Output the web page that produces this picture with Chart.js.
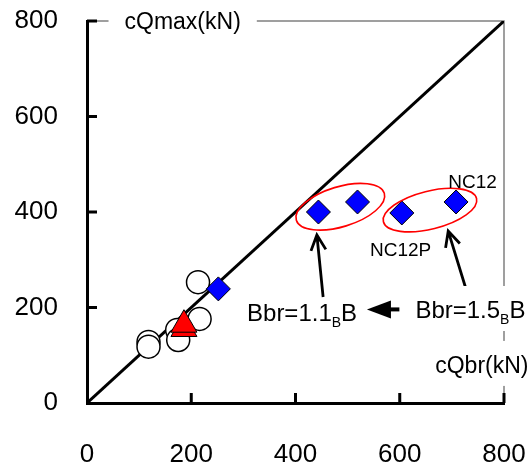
<!DOCTYPE html>
<html>
<head>
<meta charset="utf-8">
<script src="https://cdn.jsdelivr.net/npm/chart.js@4.4.1/dist/chart.umd.min.js"></script>
<style>
  body { margin: 0; background: #fff; }
</style>
</head>
<body>
<canvas id="chart" width="532" height="468"></canvas>
<script>
// values (kN)
const circleX = [213, 216, 173, 175, 118, 118];
const circleY = [253, 176, 153, 132, 128, 118];
const triangleX = [186, 186];
const triangleY = [155, 164];
const diamondX = [252, 444, 519, 604, 708];
const diamondY = [239, 400, 421, 398, 421];
const lineX = [0, 800];
const lineY = [0, 800];
const tickValues = [0, 200, 400, 600, 800];

const FONT = "'Liberation Sans', Arial, sans-serif";

function pts(xs, ys) {
    return xs.map((x, i) => ({ x: x, y: ys[i] }));
}

// annotations in data coordinates
const ellipses = [
    { x: 486, y: 411, rx: 46, ry: 20, rot: -17 },
    { x: 658, y: 404, rx: 48, ry: 19, rot: -14 }
];
const openArrows = [
    { x1: 453, y1: 222, x2: 441, y2: 352 },
    { x1: 729, y1: 232, x2: 693, y2: 360 }
];

function drawOpenArrow(ctx, x1, y1, x2, y2) {
    const a = Math.atan2(y2 - y1, x2 - x1);
    const len = 17, spread = 26 * Math.PI / 180;
    ctx.beginPath();
    ctx.moveTo(x1, y1);
    ctx.lineTo(x2, y2);
    ctx.moveTo(x2 - len * Math.cos(a - spread), y2 - len * Math.sin(a - spread));
    ctx.lineTo(x2, y2);
    ctx.lineTo(x2 - len * Math.cos(a + spread), y2 - len * Math.sin(a + spread));
    ctx.stroke();
}

// text with subscript, returns width
function subText(ctx, parts, x, y, draw) {
    let cx = x;
    parts.forEach(p => {
        ctx.font = (p.sub ? '14px ' : '24px ') + FONT;
        if (draw) ctx.fillText(p.t, cx, p.sub ? y + 6 : y);
        cx += ctx.measureText(p.t).width;
    });
    return cx - x;
}

function whiteBox(ctx, x, y, w) {
    ctx.fillStyle = '#fff';
    ctx.fillRect(x - 16, y - 32, w + 32, 45);
}

const framePlugin = {
    id: 'frame',
    beforeDatasetsDraw(chart) {
        const ctx = chart.ctx;
        const a = chart.chartArea;
        ctx.save();
        ctx.strokeStyle = '#808080';
        ctx.lineWidth = 1.5;
        ctx.beginPath();
        ctx.moveTo(a.left, a.top);
        ctx.lineTo(a.right, a.top);
        ctx.lineTo(a.right, a.bottom);
        ctx.stroke();
        ctx.restore();
    },
    afterDatasetsDraw(chart) {
        const ctx = chart.ctx;
        const a = chart.chartArea;
        const xs = chart.scales.x, ys = chart.scales.y;
        ctx.save();

        // inward tick marks
        ctx.strokeStyle = '#000';
        ctx.lineWidth = 3;
        ctx.beginPath();
        tickValues.slice(1).forEach(v => {
            const px = xs.getPixelForValue(v);
            ctx.moveTo(px, a.bottom);
            ctx.lineTo(px, a.bottom - 10);
            const py = ys.getPixelForValue(v);
            ctx.moveTo(a.left, py);
            ctx.lineTo(a.left + 10, py);
        });
        ctx.stroke();

        // red ellipses
        ctx.strokeStyle = '#ff0000';
        ctx.lineWidth = 1.6;
        ellipses.forEach(e => {
            ctx.beginPath();
            ctx.ellipse(xs.getPixelForValue(e.x), ys.getPixelForValue(e.y), e.rx, e.ry,
                e.rot * Math.PI / 180, 0, Math.PI * 2);
            ctx.stroke();
        });

        // arrows
        ctx.strokeStyle = '#000';
        ctx.lineWidth = 2.8;
        openArrows.forEach(r => drawOpenArrow(ctx,
            xs.getPixelForValue(r.x1), ys.getPixelForValue(r.y1),
            xs.getPixelForValue(r.x2), ys.getPixelForValue(r.y2)));

        // filled arrow pointing left
        const tx = xs.getPixelForValue(612), hx = xs.getPixelForValue(537), ay = ys.getPixelForValue(196);
        ctx.lineWidth = 4;
        ctx.beginPath();
        ctx.moveTo(tx, ay);
        ctx.lineTo(hx + 18, ay);
        ctx.stroke();
        ctx.fillStyle = '#000';
        ctx.beginPath();
        ctx.moveTo(hx, ay);
        ctx.lineTo(hx + 24, ay - 9);
        ctx.lineTo(hx + 24, ay + 9);
        ctx.closePath();
        ctx.fill();

        ctx.textBaseline = 'alphabetic';
        ctx.textAlign = 'left';

        // axis titles on frame
        ctx.font = '23px ' + FONT;
        let x0 = xs.getPixelForValue(72), y0 = ys.getPixelForValue(784);
        let w = ctx.measureText('cQmax(kN)').width;
        whiteBox(ctx, x0, y0, w);
        ctx.fillStyle = '#000';
        ctx.fillText('cQmax(kN)', x0, y0);

        ctx.font = '23px ' + FONT;
        x0 = xs.getPixelForValue(668); y0 = ys.getPixelForValue(63);
        w = ctx.measureText('cQbr(kN)').width;
        whiteBox(ctx, x0, y0, w);
        ctx.fillStyle = '#000';
        ctx.fillText('cQbr(kN)', x0, y0);

        // Bbr labels
        const p15 = [{ t: 'Bbr=1.5' }, { t: 'B', sub: true }, { t: 'B' }];
        const p11 = [{ t: 'Bbr=1.1' }, { t: 'B', sub: true }, { t: 'B' }];
        x0 = xs.getPixelForValue(630); y0 = ys.getPixelForValue(178);
        w = subText(ctx, p15, x0, y0, false);
        whiteBox(ctx, x0, y0, w);
        ctx.fillStyle = '#000';
        subText(ctx, p15, x0, y0, true);
        subText(ctx, p11, xs.getPixelForValue(307), ys.getPixelForValue(172), true);

        // specimen names
        ctx.font = '19px ' + FONT;
        ctx.fillText('NC12', xs.getPixelForValue(693), ys.getPixelForValue(450));
        ctx.fillText('NC12P', xs.getPixelForValue(543), ys.getPixelForValue(308));

        ctx.restore();
    }
};

const ctx = document.getElementById('chart').getContext('2d');
const chart = new Chart(ctx, {
    type: 'scatter',
    data: {
        datasets: [
            {
                label: 'triangle',
                data: pts(triangleX, triangleY),
                pointStyle: 'triangle',
                pointRadius: 15,
                pointBackgroundColor: '#ff0000',
                pointBorderColor: '#000',
                pointBorderWidth: 1,
                order: 0
            },
            {
                label: 'diamond',
                data: pts(diamondX, diamondY),
                pointStyle: 'rectRot',
                pointRadius: 12,
                pointBackgroundColor: '#0000ff',
                pointBorderColor: '#000',
                pointBorderWidth: 1,
                order: 1
            },
            {
                label: 'circle',
                data: pts(circleX, circleY),
                pointStyle: 'circle',
                pointRadius: 11.5,
                pointBackgroundColor: '#fff',
                pointBorderColor: '#000',
                pointBorderWidth: 1.5,
                order: 2
            },
            {
                type: 'line',
                label: 'line',
                data: pts(lineX, lineY),
                borderColor: '#000',
                borderWidth: 3,
                pointRadius: 0,
                fill: false,
                order: 3
            }
        ]
    },
    options: {
        responsive: false,
        animation: false,
        layout: { padding: { top: 21, right: 28, left: 0, bottom: 0 } },
        plugins: { legend: { display: false }, tooltip: { enabled: false } },
        scales: {
            x: {
                type: 'linear',
                min: 0,
                max: 800,
                afterFit: s => { s.height = 65; s.paddingLeft = 0; s.paddingRight = 0; },
                afterBuildTicks: s => { s.ticks = tickValues.map(v => ({ value: v })); },
                grid: { drawOnChartArea: false, drawTicks: false },
                border: { color: '#000', width: 3 },
                ticks: { color: '#000', padding: 36, maxRotation: 0, font: { family: FONT, size: 26 } }
            },
            y: {
                type: 'linear',
                min: 0,
                max: 800,
                afterFit: s => { s.width = 87; s.paddingTop = 0; s.paddingBottom = 0; },
                afterBuildTicks: s => { s.ticks = tickValues.map(v => ({ value: v })); },
                grid: { drawOnChartArea: false, drawTicks: false },
                border: { color: '#000', width: 3 },
                ticks: { color: '#000', padding: 29, font: { family: FONT, size: 26 } }
            }
        }
    },
    plugins: [framePlugin]
});
</script>
</body>
</html>
